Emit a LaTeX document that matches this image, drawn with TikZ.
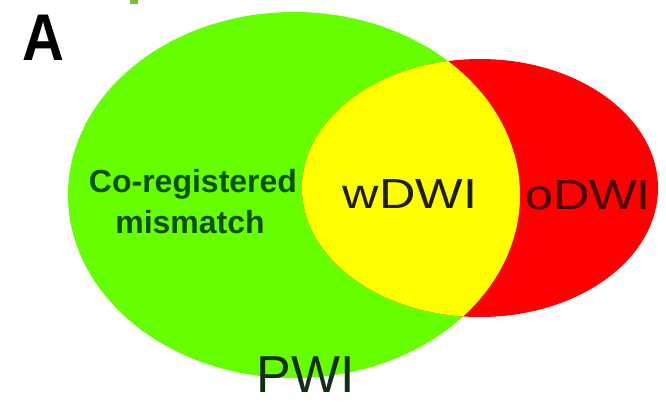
\documentclass[tikz,border=0pt]{standalone}
\usepackage{fontspec}
\usepackage{xcolor}
\setmainfont{Liberation Sans}
\newfontfamily\widesans[FakeStretch=1.2]{Liberation Sans}
\newfontfamily\narrowsans[FakeStretch=0.88]{Liberation Sans}
\definecolor{pwigreen}{RGB}{102,255,0}
\definecolor{dwired}{RGB}{255,0,0}
\definecolor{overlapyellow}{RGB}{255,255,0}
\definecolor{tickgreen}{RGB}{122,190,60}
\definecolor{matchtext}{RGB}{12,78,12}
\definecolor{odwitext}{RGB}{70,0,0}
\definecolor{wdwitext}{RGB}{30,30,10}
\definecolor{pwitext}{RGB}{20,45,20}
\tikzset{
  venn label/.style={inner sep=0pt, anchor=base},
}
\begin{document}
\begin{tikzpicture}[x=1pt, y=-1pt]
            \useasboundingbox (0,0) rectangle (666,405);
            \fill[tickgreen] (130,0) rectangle (138,4);
            \fill[pwigreen] (294,195) ellipse [x radius=226, y radius=183];
            \fill[dwired] (480,188) ellipse [x radius=178, y radius=129];
            \begin{scope}
                \clip (480,188) ellipse [x radius=178, y radius=129];
                \fill[overlapyellow] (294,195) ellipse [x radius=226, y radius=183];
            \end{scope}
            \node[venn label, font=\narrowsans\bfseries\fontsize{66}{66}\selectfont] (panel) at (43,60) {A};
            \node[venn label, text=matchtext, font=\bfseries\fontsize{32}{38}\selectfont] (coreg) at (193,192) {Co-registered};
            \node[venn label, text=matchtext, font=\bfseries\fontsize{32}{38}\selectfont] (mismatch) at (190,233) {mismatch};
            \node[venn label, text=wdwitext, font=\widesans\fontsize{42}{42}\selectfont] (wdwi) at (410,208) {wDWI};
            \node[venn label, text=odwitext, font=\widesans\fontsize{42}{42}\selectfont] (odwi) at (588,209) {oDWI};
            \node[venn label, text=pwitext, font=\fontsize{52}{52}\selectfont] (pwi) at (306,392) {PWI};
        \end{tikzpicture}
\end{document}
